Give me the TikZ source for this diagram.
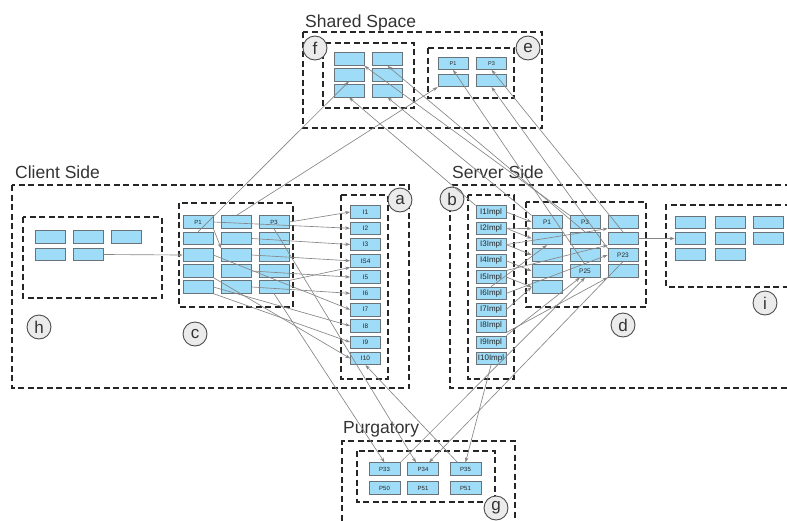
\documentclass[tikz,border=0pt]{standalone}
\usepackage{fontspec}
\setmainfont{Liberation Sans}
\usetikzlibrary{arrows.meta,calc}
\definecolor{boxfill}{HTML}{9FDCF8}
\definecolor{boxline}{HTML}{6A7378}
\definecolor{conncol}{HTML}{858585}
\definecolor{titlecol}{HTML}{333333}
\definecolor{circfill}{HTML}{EBEBEB}
\begin{document}
\begin{tikzpicture}[x=1pt,y=-1pt,
  box/.style={draw=boxline, fill=boxfill, line width=0.7pt, minimum width=30pt, minimum height=12.5pt, inner sep=0pt, text=black!85, font=\fontsize{6}{6}\selectfont},
  implbox/.style={box, font=\fontsize{8}{8}\selectfont},
  ibox/.style={box, font=\fontsize{6.5}{6.5}\selectfont},
  region/.style={draw=black!85, line width=1.1pt, dash pattern=on 6pt off 3.5pt},
  tag/.style={circle, draw=black!70, fill=circfill, line width=0.9pt, minimum size=24pt, inner sep=0pt, font=\fontsize{17}{17}\selectfont, text=black!80},
  title/.style={anchor=base west, font=\fontsize{17.5}{17.5}\selectfont, text=titlecol, inner sep=0pt},
  conn/.style={draw=conncol, line width=0.65pt, -{Stealth[length=5pt,width=3.5pt]}},
]
\useasboundingbox (0,0) rectangle (787,520);
\clip (0,0) rectangle (787,520);

% regions
\draw[region] (303,32) rectangle (542,128);
\draw[region] (323,43) rectangle (414,108);
\draw[region] (428,48) rectangle (514,98);
\draw[region] (12,185) rectangle (409,388);
\draw[region] (23,217) rectangle (162,298);
\draw[region] (179,203) rectangle (293,307);
\draw[region] (341,195) rectangle (388,379);
\draw[region] (800,185) -- (450,185) -- (450,388) -- (800,388);
\draw[region] (468,195) rectangle (514,379);
\draw[region] (526,202) rectangle (646,307);
\draw[region] (800,205) -- (666,205) -- (666,287) -- (800,287);
\draw[region] (342,530) -- (342,441) -- (515,441) -- (515,530);
\draw[region] (357,451) rectangle (495,502);

% titles
\node[title] (tShared) at (305,27) {Shared Space};
\node[title] (tClient) at (15,178) {Client Side};
\node[title] (tServer) at (452,178) {Server Side};
\node[title] (tPurg) at (343,433) {Purgatory};

% f boxes
\foreach \r/\y in {1/59,2/74.5,3/90.5}{
  \foreach \c/\x in {1/349,2/387.5}{
    \node[box,minimum height=13pt] (f\r\c) at (\x,\y) {};
  }
}
% e boxes
\node[box,minimum height=12pt,font=\fontsize{5.5}{5.5}\selectfont] (e11) at (453,63.5) {P1};
\node[box,minimum height=12pt,font=\fontsize{5.5}{5.5}\selectfont] (e12) at (491.5,63.5) {P3};
\node[box,minimum height=12.5pt] (e21) at (453,80.5) {};
\node[box,minimum height=12.5pt] (e22) at (491.5,80.5) {};

% h boxes
\node[box] (h11) at (50.5,237) {};
\node[box] (h12) at (88,237) {};
\node[box] (h13) at (126.5,237) {};
\node[box] (h21) at (50.5,254.5) {};
\node[box] (h22) at (88,254.5) {};

% c boxes
\foreach \r/\y in {1/222,2/238.5,3/255,4/271,5/287}{
  \foreach \c/\x in {1/198,2/236.5,3/274}{
    \node[box] (c\r\c) at (\x,\y) {};
  }
}
\node[font=\fontsize{6}{6}\selectfont, text=black!85] (c11t) at (c11) {P1};
\node[font=\fontsize{6}{6}\selectfont, text=black!85] (c13t) at (c13) {P3};

% a column
\foreach \k/\la in {1/I1,2/I2,3/I3,4/IS4,5/I5,6/I6,7/I7,8/I8,9/I9,10/I10}{
  \node[ibox] (a\k) at (365.5,{212+16.27*(\k-1)}) {\la};
}
% b column
\foreach \k in {1,...,10}{
  \node[implbox] (b\k) at (491,{212+16.27*(\k-1)}) {I\k Impl};
}

% d boxes
\foreach \r/\y in {1/222,2/238.5,3/255,4/271,5/287}{
  \node[box] (d\r1) at (547,\y) {};
}
\foreach \r/\y in {1/222,2/238.5,3/255,4/271}{
  \node[box] (d\r2) at (585,\y) {};
  \node[box] (d\r3) at (623,\y) {};
}
\node[font=\fontsize{6.5}{6.5}\selectfont, text=black!85] (d11t) at (d11) {P1};
\node[font=\fontsize{6.5}{6.5}\selectfont, text=black!85] (d12t) at (d12) {P3};
\node[font=\fontsize{6.5}{6.5}\selectfont, text=black!85] (d42t) at (d42) {P25};
\node[font=\fontsize{6.5}{6.5}\selectfont, text=black!85] (d33t) at (d33) {P23};

% i boxes
\foreach \r/\y in {1/222.5,2/238.5,3/254.5}{
  \node[box] (i\r1) at (690,\y) {};
  \node[box] (i\r2) at (730,\y) {};
}
\node[box] (i13) at (768,222.5) {};
\node[box] (i23) at (768,238.5) {};

% purgatory boxes
\node[box,minimum width=31pt] (g11) at (384.5,469) {P33};
\node[box,minimum width=31pt] (g12) at (423,469) {P34};
\node[box,minimum width=31pt] (g13) at (465.5,469) {P35};
\node[box,minimum width=31pt] (g21) at (384.5,488) {P50};
\node[box,minimum width=31pt] (g22) at (423,488) {P51};
\node[box,minimum width=31pt] (g23) at (465.5,488) {P51};

% tags
\node[tag] (tf) at (315,48) {f};
\node[tag] (te) at (528,48) {e};
\node[tag] (th) at (39,327) {h};
\node[tag] (tc) at (195,334) {c};
\node[tag] (ta) at (400,200) {a};
\node[tag] (tb) at (452,199) {b};
\node[tag] (td) at (623,325) {d};
\node[tag] (ti) at (765,303) {i};
\node[tag] (tg) at (496,508) {g};

% connectors: client side
\draw[conn] (h22.east) -- (c31.west);
\draw[conn] (c21.north) -- (f21.south);
\draw[conn] (c12.north) -- (e21.south west);
\draw[conn] (c13.east) -- (a1.west);
\draw[conn] (c11.east) -- (a2.west);
\draw[conn] (c11.south east) -- (c32.north west);
\draw[conn] (c22.east) -- (a3.west);
\draw[conn] (c32.east) -- (a4.west);
\draw[conn] (c42.east) -- (a5.west);
\draw[conn] (c52.east) -- (a6.west);
\draw[conn] (c53.north east) -- (a4.south west);
\draw[conn] (c31.east) -- (a7.west);
\draw[conn] (c51.east) -- (a8.west);
\draw[conn] (c51.south east) -- (a9.west);
\draw[conn] (c41.south east) -- (a10.west);

% purgatory connectors
\draw[conn] (c53.south) -- (g11.north);
\draw[conn] (c13.south) -- ($(g12.north)+(-7,0)$);
\draw[conn] ($(g13.north)+(-8,0)$) -- (a10.south);
\draw[conn] (g11.north east) -- (d42.south);
\draw[conn] (b10.south) -- (g13.north);
\draw[conn] (d33.south) -- ($(g12.north)+(6,0)$);
\draw[conn] (b8.south east) -- (d43.south west);
\draw[conn] (b9.north east) -- ($(d42.south)+(-5,0)$);

% server side b -> d
\draw[conn] (b1.east) -- (d11.west);
\draw[conn] (b2.east) -- (d11.south west);
\draw[conn] (b2.east) -- (d21.west);
\draw[conn] (b3.east) -- (d31.west);
\draw[conn] (b3.east) -- (d13.south west);
\draw[conn] (b4.east) -- (d41.west);
\draw[conn] (b5.east) -- (d51.west);
\draw[conn] (b5.north east) -- (d23.south west);
\draw[conn] (b6.north) -- (d21.south);
\draw[conn] (b6.east) -- (d33.west);
\draw[conn] (b7.east) -- (d51.west);
\draw[conn] (d23.east) -- (i21.west);

% up to shared space
\draw[conn] (d42.north) -- (e11.south);
\draw[conn] (d23.north) -- (e12.south);
\draw[conn] (d33.north west) -- (e22.south);
\draw[conn] (b1.north west) -- (f31.south);
\draw[conn] (d11.north west) -- (f32.south);
\draw[conn] (d12.north west) -- (f11.south east);
\draw[conn] (d22.north) -- (f12.south);
\end{tikzpicture}
\end{document}
